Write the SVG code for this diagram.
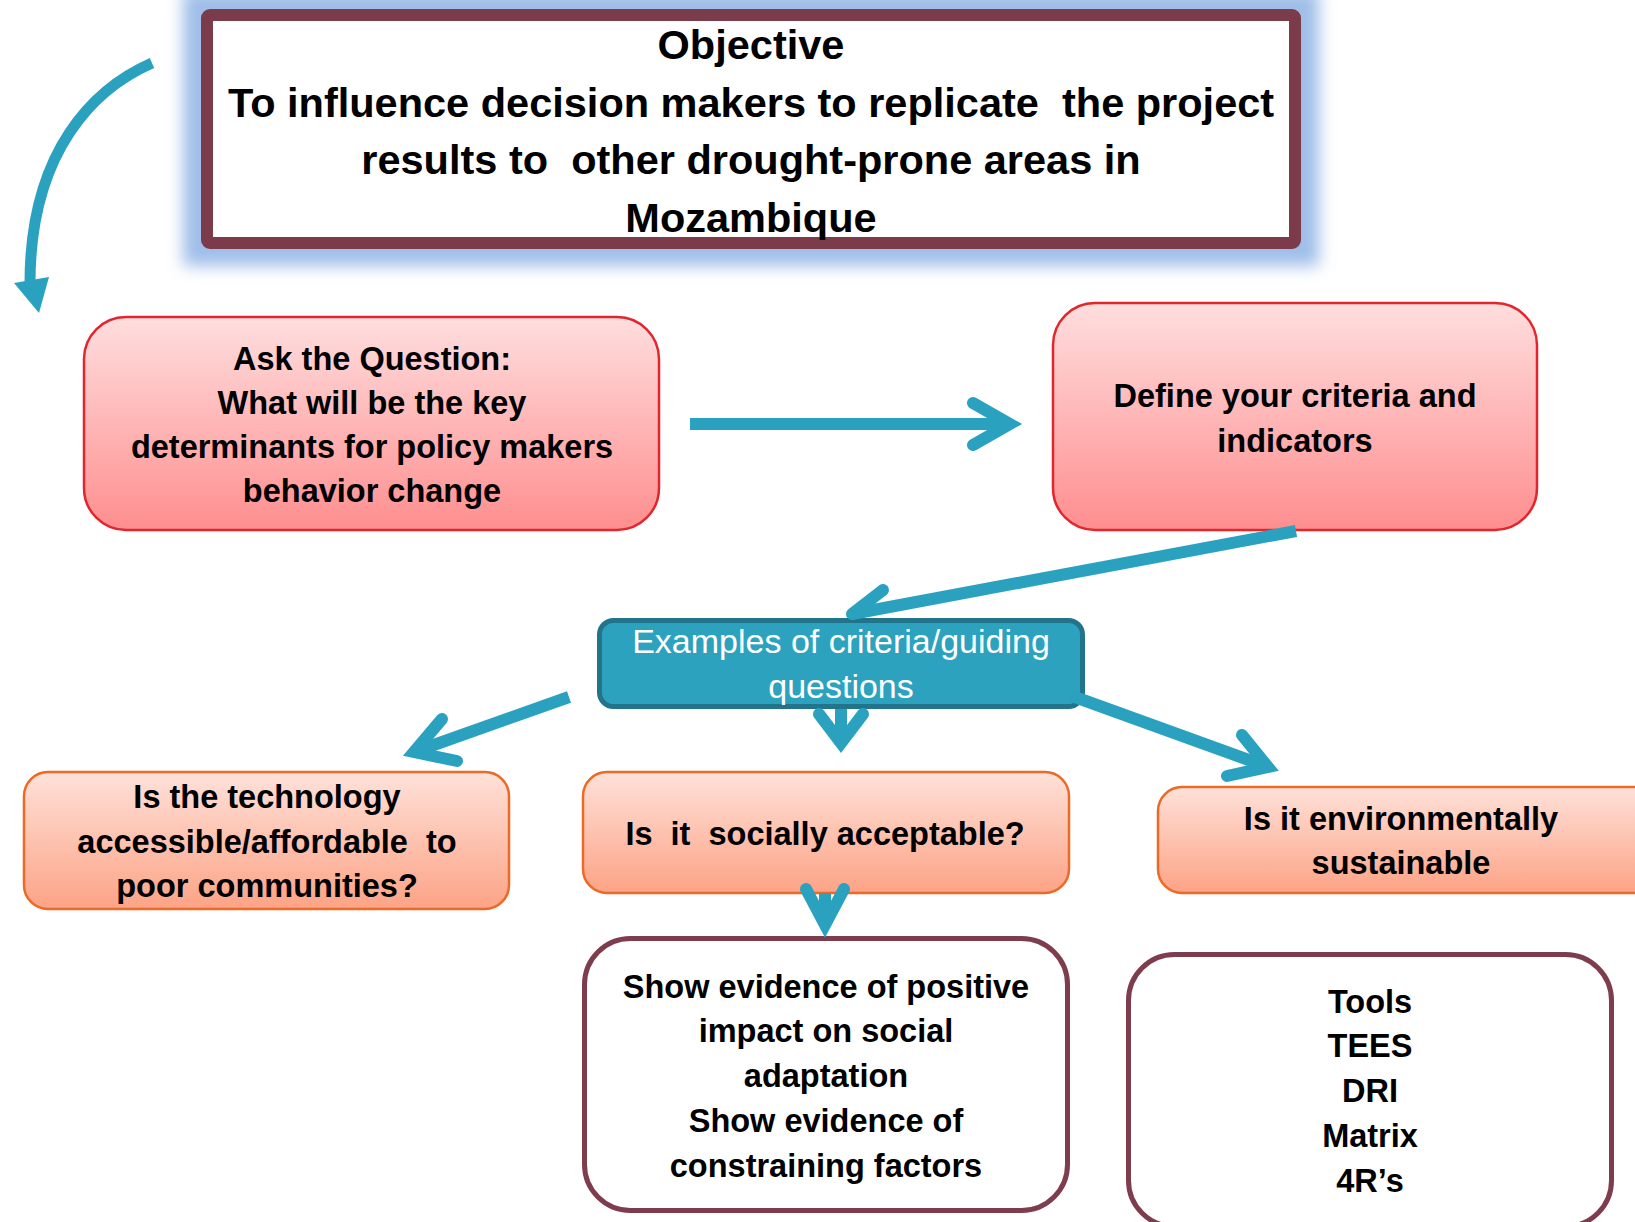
<svg xmlns="http://www.w3.org/2000/svg" width="1635" height="1222" viewBox="0 0 1635 1222">
<style>
.t{font-family:"Liberation Sans",Arial,sans-serif;font-weight:bold;font-size:32.5px;fill:#000;text-anchor:middle}
.obj{font-size:41.5px}
.ex{font-family:"Liberation Sans",Arial,sans-serif;font-weight:normal;font-size:34px;fill:#fff;text-anchor:middle}
.red{fill:url(#gRed);stroke:#E1262D;stroke-width:2.5}
.org{fill:url(#gOrg);stroke:#EC6A26;stroke-width:2.5}
.mar{fill:#fff;stroke:#7E3D4D;stroke-width:5}
.c{fill:none;stroke:#2BA1C0;stroke-width:12}
.h{fill:none;stroke:#2BA1C0;stroke-width:12;stroke-linecap:round;stroke-linejoin:miter}
</style>
<defs>
<linearGradient id="gRed" x1="0" y1="0" x2="0" y2="1"><stop offset="0" stop-color="#FFDEDE"/><stop offset="1" stop-color="#FE8E8F"/></linearGradient>
<linearGradient id="gOrg" x1="0" y1="0" x2="0" y2="1"><stop offset="0" stop-color="#FFE1D9"/><stop offset="1" stop-color="#FCA386"/></linearGradient>
<filter id="glow" x="-10%" y="-30%" width="120%" height="160%"><feGaussianBlur stdDeviation="8"/></filter>
</defs>
<rect width="1635" height="1222" fill="#fff"/>

<g id="objective">
<rect x="183" y="-10" width="1136" height="276" fill="#9FBEE8" filter="url(#glow)"/>
<rect x="207" y="15" width="1088" height="228" rx="3" fill="#fff" stroke="#7B3B4B" stroke-width="12"/>
<text class="t obj" x="751" y="59">Objective</text>
<text class="t obj" x="751" y="117" xml:space="preserve">To influence decision makers to replicate  the project</text>
<text class="t obj" x="751" y="174" xml:space="preserve">results to  other drought-prone areas in</text>
<text class="t obj" x="751" y="232">Mozambique</text>
</g>

<g id="ask">
<rect class="red" x="84" y="317" width="575" height="213" rx="42"/>
<text class="t" x="372" y="370">Ask the Question:</text>
<text class="t" x="372" y="414">What will be the key</text>
<text class="t" x="372" y="458">determinants for policy makers</text>
<text class="t" x="372" y="502">behavior change</text>
</g>

<g id="define">
<rect class="red" x="1053" y="303" width="484" height="227" rx="42"/>
<text class="t" x="1295" y="407">Define your criteria and</text>
<text class="t" x="1295" y="452">indicators</text>
</g>

<g id="examples">
<rect x="599.5" y="620.5" width="483" height="86" rx="14" fill="#2DA2BF" stroke="#217489" stroke-width="5"/>
<text class="ex" x="841" y="653">Examples of criteria/guiding</text>
<text class="ex" x="841" y="698">questions</text>
</g>

<g id="affordable">
<rect class="org" x="24" y="772" width="485" height="137" rx="24"/>
<text class="t" x="267" y="808">Is the technology</text>
<text class="t" x="267" y="853" xml:space="preserve">accessible/affordable  to</text>
<text class="t" x="267" y="897">poor communities?</text>
</g>

<g id="social">
<rect class="org" x="583" y="772" width="486" height="121" rx="24"/>
<text class="t" x="825" y="845" xml:space="preserve">Is  it  socially acceptable?</text>
</g>

<g id="environment">
<rect class="org" x="1158" y="787" width="500" height="106" rx="24"/>
<text class="t" x="1401" y="830">Is it environmentally</text>
<text class="t" x="1401" y="874">sustainable</text>
</g>

<g id="evidence">
<rect class="mar" x="584.5" y="938.5" width="483" height="272" rx="46"/>
<text class="t" x="826" y="998">Show evidence of positive</text>
<text class="t" x="826" y="1042">impact on social</text>
<text class="t" x="826" y="1087">adaptation</text>
<text class="t" x="826" y="1132">Show evidence of</text>
<text class="t" x="826" y="1177">constraining factors</text>
</g>

<g id="tools">
<rect class="mar" x="1128.5" y="954.5" width="483" height="272" rx="46"/>
<text class="t" x="1370" y="1013">Tools</text>
<text class="t" x="1370" y="1057">TEES</text>
<text class="t" x="1370" y="1102">DRI</text>
<text class="t" x="1370" y="1147">Matrix</text>
<text class="t" x="1370" y="1192">4R’s</text>
</g>

<g id="connectors">
<path d="M152,63 C95,88 30,150 30,283" fill="none" stroke="#2BA1C0" stroke-width="11"/>
<polygon points="14,283 49,277 39,313" fill="#2BA1C0"/>

<line class="c" x1="690" y1="424" x2="1010" y2="424"/>
<polyline class="h" points="973,403 1010,424 973,445"/>

<line class="c" x1="1296" y1="531" x2="852" y2="614"/>
<polyline class="h" points="883,590 852,614"/>

<line class="c" x1="569" y1="697" x2="414" y2="752"/>
<polyline class="h" points="442,719 414,752 457,761"/>

<line class="c" x1="841" y1="709" x2="841" y2="743"/>
<polyline class="h" points="819,714 841,743 863,714"/>

<line class="c" x1="1072" y1="696" x2="1268" y2="767"/>
<polyline class="h" points="1242,735 1268,767 1227,776"/>

<line class="c" x1="825" y1="893" x2="825" y2="925"/>
<polyline class="h" points="806,889 825,925 844,889"/>
</g>
</svg>
